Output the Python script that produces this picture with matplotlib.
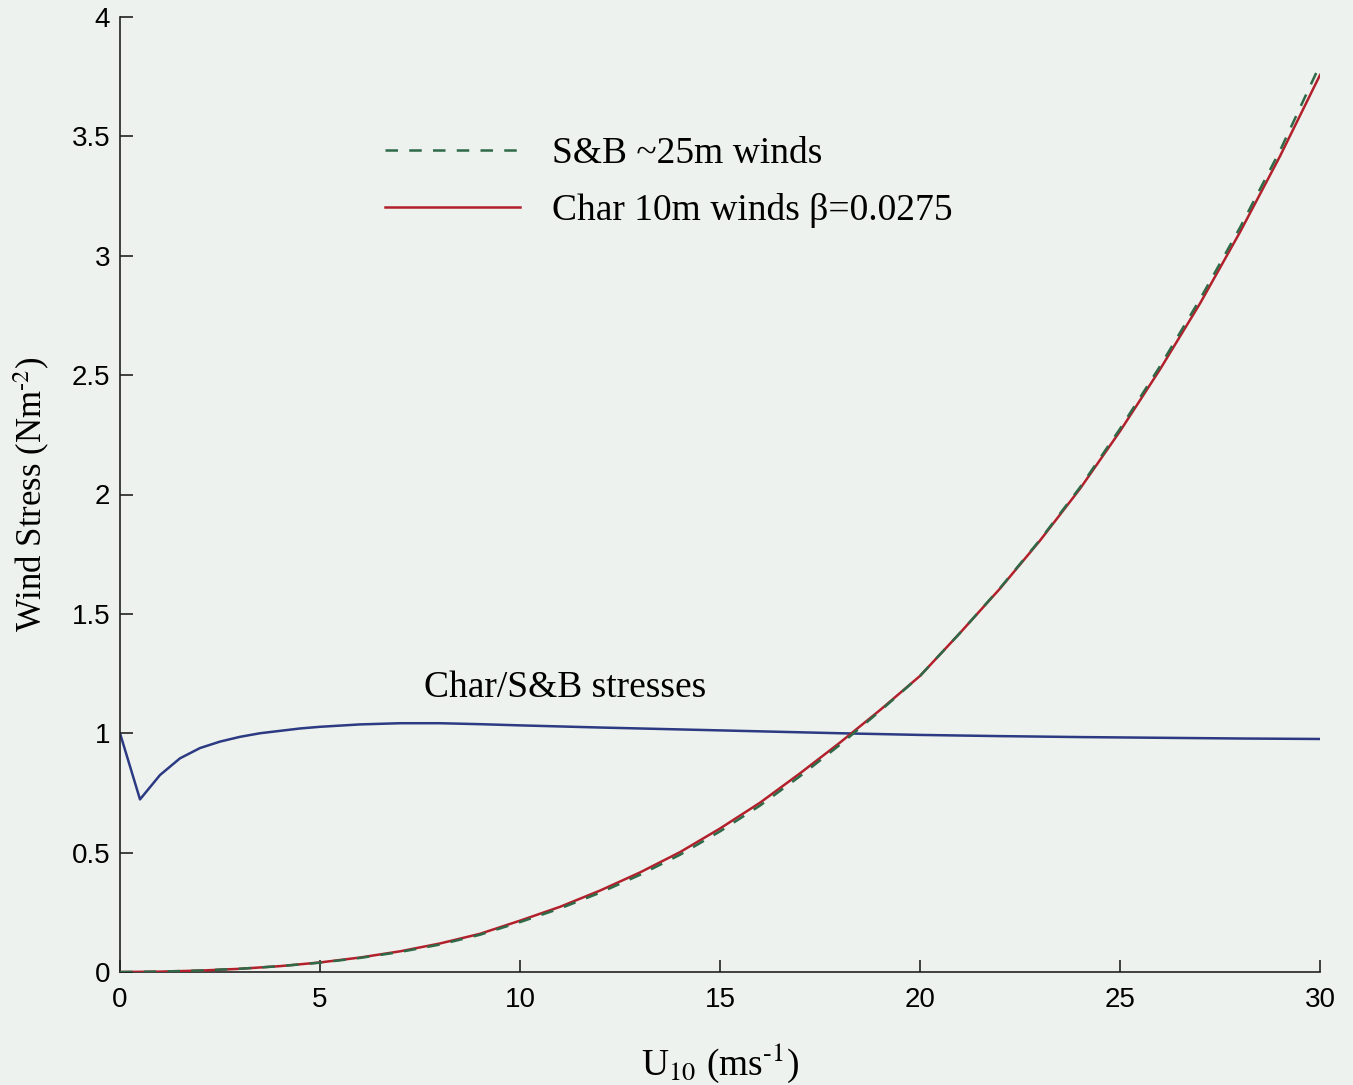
import numpy as np
import matplotlib.pyplot as plt

plt.rcParams['font.family'] = ['Liberation Serif', 'DejaVu Serif']
plt.rcParams['mathtext.fontset'] = 'stix'

### Data
u = list(range(0, 31))
tau_char = [0.0, 0.0015, 0.0059, 0.0134, 0.0246, 0.040, 0.0606, 0.0866, 0.1195, 0.160,
            0.215, 0.273, 0.341, 0.417, 0.502, 0.601, 0.709, 0.832, 0.961, 1.097,
            1.240, 1.420, 1.606, 1.807, 2.024, 2.265, 2.524, 2.800, 3.099, 3.417, 3.757]
tau_sb = [0.0, 0.0018, 0.0063, 0.0137, 0.0245, 0.039, 0.0589, 0.0838, 0.115, 0.156,
          0.209, 0.266, 0.332, 0.407, 0.491, 0.589, 0.697, 0.820, 0.952, 1.093,
          1.240, 1.420, 1.608, 1.810, 2.030, 2.275, 2.537, 2.818, 3.118, 3.440, 3.800]

u_ratio = [0, 0.5, 1, 1.5, 2, 2.5, 3, 3.5, 4, 4.5, 5, 6, 7, 8, 9, 10,
           12, 14, 16, 18, 20, 22, 24, 26, 28, 30]
ratio = [1.0, 0.723, 0.825, 0.895, 0.938, 0.965, 0.985, 1.0, 1.01, 1.02, 1.027, 1.037,
         1.042, 1.042, 1.038, 1.033, 1.024, 1.016, 1.008, 1.0, 0.993, 0.988, 0.984,
         0.981, 0.978, 0.976]

xticks = [0, 5, 10, 15, 20, 25, 30]
yticks = [0, 0.5, 1, 1.5, 2, 2.5, 3, 3.5, 4]
ytick_labels = ['0', '0.5', '1', '1.5', '2', '2.5', '3', '3.5', '4']

bg = '#eef2ee'
fig = plt.figure(figsize=(13.53, 10.85), dpi=100, facecolor=bg)
ax = fig.add_axes([120/1353, 1 - 972/1085, 1200/1353, 955/1085])
ax.set_facecolor(bg)

ax.plot(u, tau_char, color='#b2202c', lw=1.8, label='Char 10m winds \u03b2=0.0275', zorder=3)
ax.plot(u, tau_sb, color='#2e6a48', lw=1.8, dashes=(5, 4.5), label='S&B ~25m winds', zorder=4)
ax.plot(u_ratio, ratio, color='#2b3a82', lw=1.8, zorder=2)

ax.text(7.6, 1.19, 'Char/S&B stresses', fontsize=27, va='center', ha='left')

h, l = ax.get_legend_handles_labels()
ax.legend(h[::-1], l[::-1], loc='upper left', bbox_to_anchor=(0.221, 0.875),
          frameon=False, fontsize=27, handlelength=3.6, handletextpad=0.85,
          labelspacing=0.6, borderpad=0, borderaxespad=0)

ax.set_xlim(0, 30)
ax.set_ylim(0, 4)
ax.set_xticks(xticks)
ax.set_yticks(yticks)
ax.set_yticklabels(ytick_labels)
for sp in ['top', 'right']:
    ax.spines[sp].set_visible(False)
for sp in ['left', 'bottom']:
    ax.spines[sp].set_linewidth(1.2)
    ax.spines[sp].set_color('#222222')
ax.tick_params(direction='in', length=9, width=1.2, color='#222222')
ax.tick_params(axis='x', pad=11)
ax.tick_params(axis='y', pad=7)
for lab in ax.get_xticklabels() + ax.get_yticklabels():
    lab.set_family('Liberation Sans')
    lab.set_fontsize(20)

ax.set_xlabel(r'U$_{\rm 10}$ (ms$^{\text{-1}}$)', fontsize=27, labelpad=20)
ax.set_ylabel(r'Wind Stress (Nm$^{\text{-2}}$)', fontsize=25, labelpad=14)

fig.savefig('out.png', dpi=100, facecolor=bg)
